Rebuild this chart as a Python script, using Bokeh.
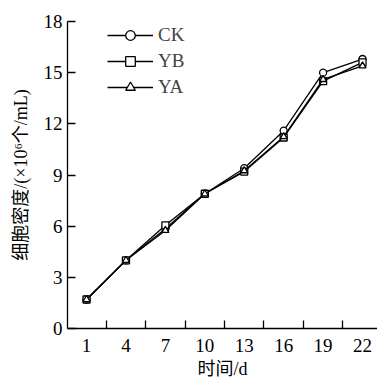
from bokeh.plotting import figure
from bokeh.models import FixedTicker, Range1d, Legend, LegendItem
from bokeh.embed import file_html
from bokeh.resources import INLINE

days = [1, 4, 7, 10, 13, 16, 19, 22]
ck = [1.7, 4.0, 5.85, 7.9, 9.4, 11.6, 15.0, 15.8]
yb = [1.7, 4.0, 6.05, 7.9, 9.2, 11.2, 14.5, 15.6]
ya = [1.7, 4.0, 5.75, 7.9, 9.25, 11.25, 14.6, 15.4]
y_ticks = [0, 3, 6, 9, 12, 15, 18]
x_minor = [2.5, 5.5, 8.5, 11.5, 14.5, 17.5, 20.5]

SERIF = "'Liberation Serif', 'Noto Sans CJK SC'"

p = figure(width=377, height=381, output_backend="svg", toolbar_location=None,
           x_range=Range1d(-0.45, 23.14), y_range=Range1d(0, 18),
           min_border_left=67, min_border_right=0, min_border_top=21, min_border_bottom=46)
p.outline_line_color = None
p.xgrid.visible = False
p.ygrid.visible = False
p.background_fill_color = "white"
p.border_fill_color = "white"

p.xaxis.ticker = FixedTicker(ticks=days, minor_ticks=x_minor)
p.yaxis.ticker = FixedTicker(ticks=y_ticks)

for ax in (p.xaxis, p.yaxis):
    ax.axis_line_color = "black"
    ax.axis_line_width = 1.3
    ax.major_label_text_font = SERIF
    ax.major_label_text_font_size = "19px"
    ax.major_label_text_color = "black"
    ax.axis_label_text_font = SERIF
    ax.axis_label_text_font_style = "normal"
    ax.axis_label_text_color = "black"

p.xaxis.major_tick_line_color = None
p.xaxis.minor_tick_line_color = "black"
p.xaxis.minor_tick_line_width = 1.3
p.xaxis.minor_tick_in = 8
p.xaxis.minor_tick_out = 0
p.xaxis.major_label_standoff = 4
p.xaxis.axis_label = "时间/d"
p.xaxis.axis_label_text_font_size = "18px"
p.xaxis.axis_label_standoff = 4

p.yaxis.minor_tick_line_color = None
p.yaxis.major_tick_line_color = "black"
p.yaxis.major_tick_line_width = 1.3
p.yaxis.major_tick_in = 8
p.yaxis.major_tick_out = 0
p.yaxis.major_label_standoff = 5
p.yaxis.axis_label = "细胞密度/(×10⁶个/mL)"
p.yaxis.axis_label_text_font_size = "18px"
p.yaxis.axis_label_standoff = 10

items = []
for label, vals, marker in (("CK", ck, "circle"), ("YB", yb, "square"), ("YA", ya, "triangle")):
    ln = p.line(days, vals, line_color="black", line_width=1.3)
    sc = p.scatter(days, vals, marker=marker, size=7, line_color="black",
                   line_width=1.3, fill_color="white")
    items.append(LegendItem(label=label, renderers=[ln, sc]))

legend = Legend(items=items, location=(40, 229), glyph_width=46, glyph_height=24,
                label_height=24, spacing=2, padding=0, margin=0, label_standoff=5,
                label_text_font=SERIF, label_text_font_size="19px",
                border_line_color=None, background_fill_alpha=0)
p.add_layout(legend, "center")

open("out.html", "w").write(file_html(p, INLINE))
